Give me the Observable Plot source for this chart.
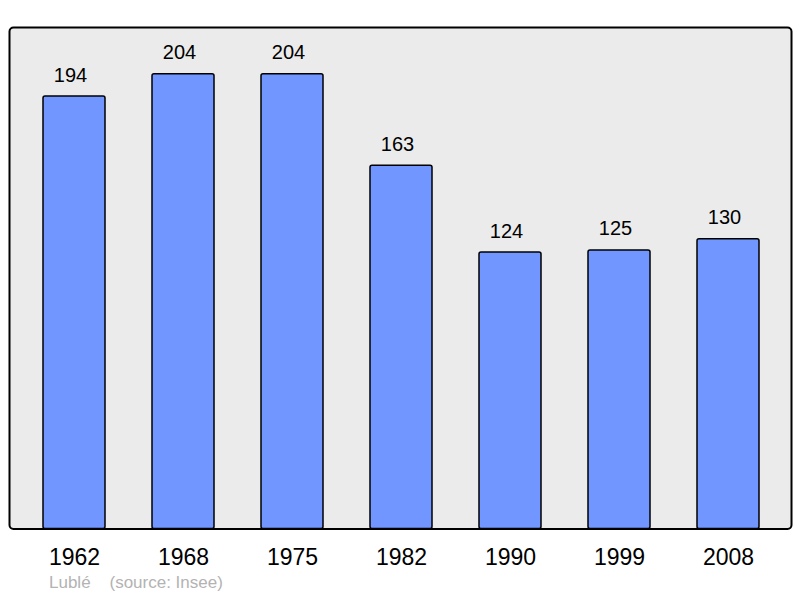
<!DOCTYPE html>
<html>
<head>
<meta charset="utf-8">
<script src="https://cdn.jsdelivr.net/npm/d3@7"></script>
<script src="https://cdn.jsdelivr.net/npm/@observablehq/plot@0.6"></script>
<style>
  html, body { margin: 0; padding: 0; background: #ffffff; }
  #chart svg { display: block; }
  #caption {
    font-family: "Liberation Sans", Arial, sans-serif;
    font-size: 17px;
    line-height: 20px;
    color: #b3b3b3;
    margin: 1px 0 0 49px;
    white-space: pre;
  }
</style>
</head>
<body>
<div id="chart"></div>
<div id="caption">Lublé    (source: Insee)</div>
<script>
const years = ["1962", "1968", "1975", "1982", "1990", "1999", "2008"];
const population = [194, 204, 204, 163, 124, 125, 130];

const data = years.map((year, i) => ({year, value: population[i]}));

const W = 800, H = 572;

const chart = Plot.plot({
  width: W,
  height: H,
  marginTop: 27,
  marginBottom: 43.5,
  marginLeft: 9,
  marginRight: 9,
  style: {fontFamily: "'Liberation Sans', Arial, sans-serif", background: "transparent"},
  x: {type: "band", domain: years, range: [9.2, 793.4], paddingInner: 0.43, paddingOuter: 0.3, label: null},
  y: {domain: [0, 225], axis: null},
  marks: [
    Plot.frame({fill: "#ebebeb", stroke: "#000", strokeWidth: 2, rx: 4}),
    Plot.barY(data, {x: "year", y: "value", fill: "#7196ff", stroke: "#000", strokeWidth: 1.5, rx: 2}),
    Plot.text(data, {x: "year", y: "value", text: d => String(d.value), dy: -15, dx: -4, lineAnchor: "bottom", fontSize: 20, fill: "#000"}),
    Plot.axisX({tickSize: 0, tickPadding: 20, fontSize: 23, fill: "#000", label: null})
  ]
});
document.getElementById("chart").appendChild(chart);
</script>
</body>
</html>
